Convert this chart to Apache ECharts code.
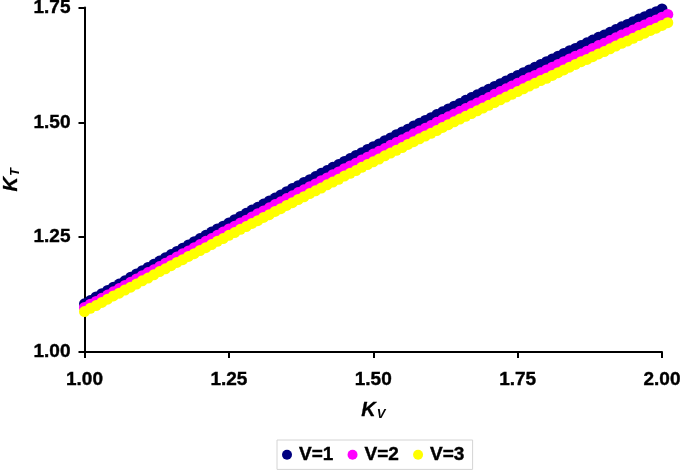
<!DOCTYPE html>
<html>
<head>
<meta charset="utf-8">
<script src="https://cdn.jsdelivr.net/npm/echarts@6/dist/echarts.min.js"></script>
<style>html,body{margin:0;padding:0;background:#fff}#c{width:688px;height:473px}</style>
</head>
<body>
<div id="c"></div>
<script>
// K_V values (x axis)
var kv = [1.00,1.01,1.02,1.03,1.04,1.05,1.06,1.07,1.08,1.09,
1.10,1.11,1.12,1.13,1.14,1.15,1.16,1.17,1.18,1.19,
1.20,1.21,1.22,1.23,1.24,1.25,1.26,1.27,1.28,1.29,
1.30,1.31,1.32,1.33,1.34,1.35,1.36,1.37,1.38,1.39,
1.40,1.41,1.42,1.43,1.44,1.45,1.46,1.47,1.48,1.49,
1.50,1.51,1.52,1.53,1.54,1.55,1.56,1.57,1.58,1.59,
1.60,1.61,1.62,1.63,1.64,1.65,1.66,1.67,1.68,1.69,
1.70,1.71,1.72,1.73,1.74,1.75,1.76,1.77,1.78,1.79,
1.80,1.81,1.82,1.83,1.84,1.85,1.86,1.87,1.88,1.89,
1.90,1.91,1.92,1.93,1.94,1.95,1.96,1.97,1.98,1.99,
2.00,2.01];
// K_T for V=1
var kt1 = [1.105,1.112,1.120,1.127,1.134,1.141,1.148,1.155,1.163,1.170,
1.177,1.184,1.191,1.198,1.205,1.212,1.219,1.226,1.233,1.240,
1.247,1.254,1.261,1.268,1.274,1.281,1.288,1.295,1.302,1.309,
1.315,1.322,1.329,1.335,1.342,1.349,1.356,1.362,1.369,1.375,
1.382,1.389,1.395,1.402,1.408,1.415,1.421,1.428,1.434,1.441,
1.447,1.453,1.460,1.466,1.473,1.479,1.485,1.492,1.498,1.504,
1.510,1.517,1.523,1.529,1.535,1.541,1.548,1.554,1.560,1.566,
1.572,1.578,1.584,1.590,1.596,1.602,1.608,1.614,1.620,1.626,
1.632,1.638,1.644,1.650,1.656,1.661,1.667,1.673,1.679,1.685,
1.690,1.696,1.702,1.708,1.713,1.719,1.725,1.730,1.736,1.741,
1.747];
// K_T for V=2
var kt2 = [1.097,1.104,1.110,1.117,1.124,1.131,1.138,1.145,1.152,1.159,
1.166,1.173,1.179,1.186,1.193,1.200,1.207,1.214,1.220,1.227,
1.234,1.241,1.247,1.254,1.261,1.268,1.274,1.281,1.287,1.294,
1.301,1.307,1.314,1.321,1.327,1.334,1.340,1.347,1.353,1.360,
1.366,1.373,1.379,1.386,1.392,1.399,1.405,1.411,1.418,1.424,
1.431,1.437,1.443,1.450,1.456,1.462,1.468,1.475,1.481,1.487,
1.493,1.500,1.506,1.512,1.518,1.524,1.530,1.536,1.542,1.548,
1.554,1.561,1.567,1.573,1.579,1.585,1.591,1.597,1.602,1.608,
1.614,1.620,1.626,1.632,1.638,1.644,1.649,1.655,1.661,1.667,
1.672,1.678,1.684,1.690,1.695,1.701,1.707,1.712,1.718,1.723,
1.729,1.735];
// K_T for V=3
var kt3 = [1.088,1.095,1.101,1.108,1.115,1.122,1.128,1.135,1.141,1.148,
1.155,1.161,1.168,1.175,1.181,1.188,1.195,1.201,1.208,1.214,
1.221,1.227,1.234,1.241,1.247,1.254,1.260,1.267,1.273,1.280,
1.286,1.293,1.299,1.306,1.312,1.319,1.325,1.332,1.338,1.345,
1.351,1.357,1.364,1.370,1.376,1.383,1.389,1.395,1.402,1.408,
1.414,1.420,1.427,1.433,1.439,1.445,1.452,1.458,1.464,1.470,
1.476,1.482,1.489,1.495,1.501,1.507,1.513,1.519,1.525,1.531,
1.537,1.543,1.549,1.555,1.561,1.567,1.573,1.579,1.585,1.591,
1.596,1.602,1.608,1.614,1.620,1.626,1.632,1.637,1.643,1.649,
1.654,1.660,1.666,1.672,1.677,1.683,1.689,1.694,1.700,1.705,
1.711,1.717];
var seriesNames = ['V=1','V=2','V=3'];
var seriesColors = ['#000080','#FF00FF','#FFFF00'];

function pairs(xs, ys){ var out=[]; for(var i=0;i<ys.length;i++){ out.push([xs[i], ys[i]]); } return out; }

var font = 'Liberation Sans, Arial, sans-serif';
var chart = echarts.init(document.getElementById('c'), null, {renderer:'canvas'});
var allY = [kt1, kt2, kt3];
var series = seriesNames.map(function(n, i){
  return {
    name: n, type: 'scatter', data: pairs(kv, allY[i]),
    symbol: 'circle', symbolSize: 11, clip: false,
    itemStyle: {color: seriesColors[i], opacity: 1},
    emphasis: {disabled: true}
  };
});
var lbl = {color: '#000', fontSize: 19, fontWeight: 'bold', fontFamily: font, textBorderColor: '#000', textBorderWidth: 0.4};
var richName = function(){
  return {
    k: {fontSize: 20, fontWeight: 'bold', fontStyle: 'italic', color: '#000', fontFamily: font, lineHeight: 24, textBorderColor: '#000', textBorderWidth: 0.3},
    s: {fontSize: 13, fontWeight: 'bold', fontStyle: 'italic', color: '#000', fontFamily: font, lineHeight: 24, padding: [9,0,0,1]}
  };
};
chart.setOption({
  animation: false,
  backgroundColor: '#fff',
  textStyle: {fontFamily: font},
  grid: {left: 84.5, right: 26, top: 7.5, bottom: 121, containLabel: false, outerBoundsMode: 'none'},
  xAxis: {
    type: 'value', min: 1, max: 2, interval: 0.25,
    axisLine: {lineStyle: {color: '#000', width: 2}},
    axisTick: {show: true, inside: false, length: 6, lineStyle: {color: '#000', width: 2}},
    splitLine: {show: false},
    axisLabel: Object.assign({margin: 18, formatter: function(v){ return v.toFixed(2); }}, lbl),
    name: '{k|K}{s|V}', nameLocation: 'middle', nameGap: 46,
    nameTextStyle: {rich: richName()}
  },
  yAxis: {
    type: 'value', min: 1, max: 1.75, interval: 0.25,
    axisLine: {show: true, lineStyle: {color: '#000', width: 2}},
    axisTick: {show: true, inside: false, length: 6, lineStyle: {color: '#000', width: 2}},
    splitLine: {show: false},
    axisLabel: Object.assign({margin: 14, formatter: function(v){ return v.toFixed(2); }}, lbl),
    name: '{k|K}{s|T}', nameLocation: 'middle', nameGap: 60, nameRotate: 90,
    nameTextStyle: {rich: richName()}
  },
  legend: {
    data: seriesNames, left: 277, top: 440,
    orient: 'horizontal', itemWidth: 14, itemHeight: 10, itemGap: 14,
    padding: [5, 8, 5, 5],
    borderColor: '#d4d4d4', borderWidth: 1,
    icon: 'circle',
    textStyle: {fontSize: 19, fontWeight: 'bold', color: '#000', fontFamily: font, textBorderColor: '#000', textBorderWidth: 0.4}
  },
  series: series
});
</script>
</body>
</html>
